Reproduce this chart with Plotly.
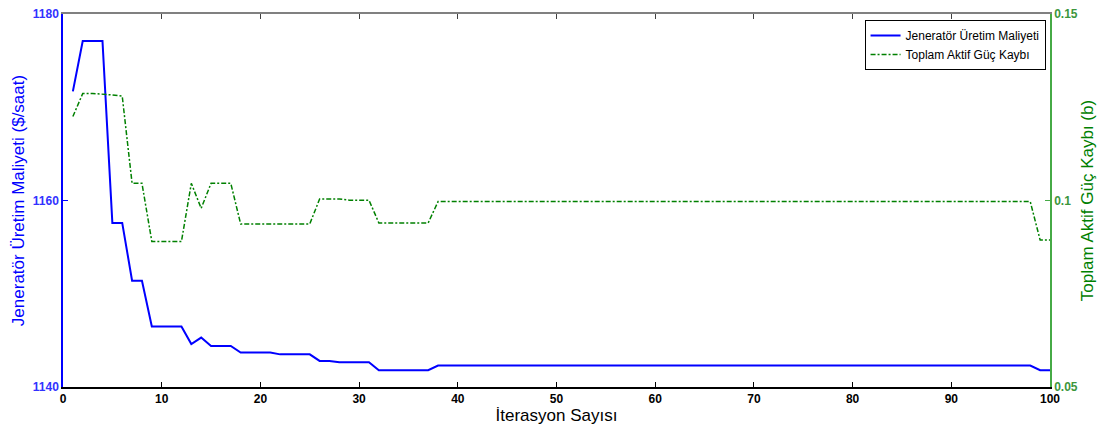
import plotly.graph_objects as go

iterations = list(range(1, 101))

maliyet = [
    1171.7, 1177.1, 1177.1, 1177.1, 1157.6, 1157.6, 1151.4, 1151.4, 1146.5, 1146.5,
    1146.5, 1146.5, 1144.6, 1145.3, 1144.4, 1144.4, 1144.4, 1143.7, 1143.7, 1143.7,
    1143.7, 1143.5, 1143.5, 1143.5, 1143.5, 1142.8, 1142.8, 1142.65, 1142.65, 1142.65,
    1142.65, 1141.8, 1141.8, 1141.8, 1141.8, 1141.8, 1141.8, 1142.3, 1142.3, 1142.3,
    1142.3, 1142.3, 1142.3, 1142.3, 1142.3, 1142.3, 1142.3, 1142.3, 1142.3, 1142.3,
    1142.3, 1142.3, 1142.3, 1142.3, 1142.3, 1142.3, 1142.3, 1142.3, 1142.3, 1142.3,
    1142.3, 1142.3, 1142.3, 1142.3, 1142.3, 1142.3, 1142.3, 1142.3, 1142.3, 1142.3,
    1142.3, 1142.3, 1142.3, 1142.3, 1142.3, 1142.3, 1142.3, 1142.3, 1142.3, 1142.3,
    1142.3, 1142.3, 1142.3, 1142.3, 1142.3, 1142.3, 1142.3, 1142.3, 1142.3, 1142.3,
    1142.3, 1142.3, 1142.3, 1142.3, 1142.3, 1142.3, 1142.3, 1142.3, 1141.8, 1141.8,
]

kayip = [
    0.1225, 0.1287, 0.1287, 0.1286, 0.1283, 0.1280, 0.1046, 0.1046, 0.0890, 0.0890,
    0.0890, 0.0890, 0.1046, 0.0979, 0.1046, 0.1046, 0.1046, 0.0937, 0.0937, 0.0937,
    0.0937, 0.0937, 0.0937, 0.0937, 0.0937, 0.1004, 0.1004, 0.1004, 0.1001, 0.1001,
    0.1001, 0.0940, 0.0940, 0.0940, 0.0940, 0.0940, 0.0940, 0.0997, 0.0997, 0.0997,
    0.0997, 0.0997, 0.0997, 0.0997, 0.0997, 0.0997, 0.0997, 0.0997, 0.0997, 0.0997,
    0.0997, 0.0997, 0.0997, 0.0997, 0.0997, 0.0997, 0.0997, 0.0997, 0.0997, 0.0997,
    0.0997, 0.0997, 0.0997, 0.0997, 0.0997, 0.0997, 0.0997, 0.0997, 0.0997, 0.0997,
    0.0997, 0.0997, 0.0997, 0.0997, 0.0997, 0.0997, 0.0997, 0.0997, 0.0997, 0.0997,
    0.0997, 0.0997, 0.0997, 0.0997, 0.0997, 0.0997, 0.0997, 0.0997, 0.0997, 0.0997,
    0.0997, 0.0997, 0.0997, 0.0997, 0.0997, 0.0997, 0.0997, 0.0997, 0.0894, 0.0894,
]

x_ticks = [0, 10, 20, 30, 40, 50, 60, 70, 80, 90, 100]
y1_ticks = [1140, 1160, 1180]
y2_ticks = [0.05, 0.1, 0.15]
y2_labels = ["0.05", "0.1", "0.15"]

FONT = "Liberation Sans, Arial, sans-serif"
BLUE = "rgb(0,0,255)"
GREEN = "rgb(0,128,0)"
GREEN_AX = "rgb(70,170,70)"

fig = go.Figure()
# invisible helper trace so the top (mirror) axis gets drawn
fig.add_trace(go.Scatter(
    x=iterations, y=maliyet, mode="lines", showlegend=False, hoverinfo="skip",
    line=dict(width=0), opacity=0, xaxis="x2", yaxis="y",
))
fig.add_trace(go.Scatter(
    x=iterations, y=maliyet, mode="lines", name="Jeneratör Üretim Maliyeti",
    line=dict(color=BLUE, width=2), xaxis="x", yaxis="y",
))
fig.add_trace(go.Scatter(
    x=iterations, y=kayip, mode="lines", name="Toplam Aktif Güç Kaybı",
    line=dict(color=GREEN, width=1.5, dash="5px,2px,2px,2px"), xaxis="x", yaxis="y2",
))

fig.update_layout(
    width=1097, height=423,
    margin=dict(l=55, r=55, t=6, b=44, autoexpand=False),
    paper_bgcolor="white", plot_bgcolor="white",
    font=dict(family=FONT, size=12, color="black"),
    showlegend=True,
    legend=dict(
        x=0.9955, y=0.984, xanchor="right", yanchor="top",
        bgcolor="white", bordercolor="black", borderwidth=1,
        font=dict(family=FONT, size=12, color="black"),
        tracegroupgap=0, itemwidth=30,
    ),
    xaxis=dict(
        range=[0, 100], tickvals=x_ticks, ticks="inside", ticklen=5,
        tickcolor="black", linecolor="black", linewidth=1.5, showline=True,
        showgrid=False, zeroline=False, automargin=False, ticklabeloverflow="allow",
        tickfont=dict(family=FONT, size=12, color="black", weight="bold"),
        title=dict(text="İterasyon Sayısı", font=dict(family=FONT, size=17, color="black"), standoff=2),
    ),
    xaxis2=dict(
        range=[0, 100], tickvals=x_ticks, ticks="inside", ticklen=5,
        tickcolor="#404040", linecolor="#808080", linewidth=1.5, showline=True,
        showgrid=False, zeroline=False, showticklabels=False, automargin=False,
        overlaying="x", side="top", anchor="y",
    ),
    yaxis=dict(
        range=[1140, 1180], tickvals=y1_ticks, ticks="inside", ticklen=5,
        tickcolor=BLUE, linecolor=BLUE, linewidth=1.5, showline=True,
        showgrid=False, zeroline=False, automargin=False, ticklabeloverflow="allow",
        tickfont=dict(family=FONT, size=12, color="rgb(50,50,255)", weight="bold"),
        title=dict(text="Jeneratör Üretim Maliyeti ($/saat)", font=dict(family=FONT, size=17, color=BLUE), standoff=4),
    ),
    yaxis2=dict(
        range=[0.05, 0.15], tickvals=y2_ticks, ticktext=y2_labels, ticks="inside", ticklen=5,
        tickcolor=GREEN_AX, linecolor=GREEN_AX, linewidth=1.5, showline=True,
        showgrid=False, zeroline=False, overlaying="y", side="right", anchor="x",
        automargin=False, ticklabeloverflow="allow",
        tickfont=dict(family=FONT, size=12, color="rgb(60,150,60)", weight="bold"),
        title=dict(text="Toplam Aktif Güç Kaybı (b)", font=dict(family=FONT, size=17, color=GREEN), standoff=4),
    ),
)

fig.write_html("out.html")
